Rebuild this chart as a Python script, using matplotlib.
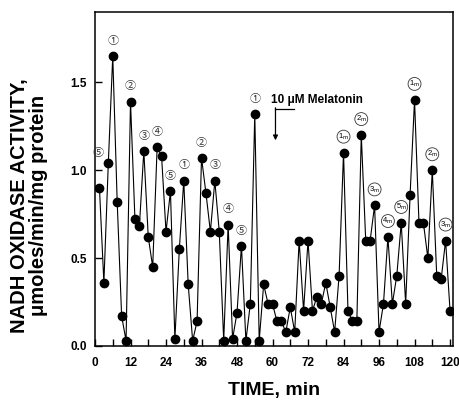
import matplotlib
matplotlib.use("Agg")
import matplotlib.pyplot as plt
from matplotlib.ticker import MultipleLocator

plt.rcParams['font.family'] = ['Liberation Sans', 'DejaVu Sans']

time_min = [1.5, 3, 4.5, 6, 7.5, 9, 10.5, 12, 13.5, 15, 16.5, 18, 19.5, 21, 22.5, 24,
            25.5, 27, 28.5, 30, 31.5, 33, 34.5, 36, 37.5, 39, 40.5, 42, 43.5, 45, 46.5, 48,
            49.5, 51, 52.5, 54, 55.5, 57, 58.5, 60, 61.5, 63, 64.5, 66, 67.5, 69, 70.5, 72,
            73.5, 75, 76.5, 78, 79.5, 81, 82.5, 84, 85.5, 87, 88.5, 90, 91.5, 93, 94.5, 96,
            97.5, 99, 100.5, 102, 103.5, 105, 106.5, 108, 109.5, 111, 112.5, 114, 115.5, 117,
            118.5, 120]
activity = [0.90, 0.36, 1.04, 1.65, 0.82, 0.17, 0.03, 1.39, 0.72, 0.68, 1.11, 0.62, 0.45,
            1.13, 1.08, 0.65, 0.88, 0.04, 0.55, 0.94, 0.35, 0.03, 0.14, 1.07, 0.87, 0.65,
            0.94, 0.65, 0.03, 0.69, 0.04, 0.19, 0.57, 0.03, 0.24, 1.32, 0.03, 0.35, 0.24,
            0.24, 0.14, 0.14, 0.08, 0.22, 0.08, 0.60, 0.20, 0.60, 0.20, 0.28, 0.24, 0.36,
            0.22, 0.08, 0.40, 1.10, 0.20, 0.14, 0.14, 1.20, 0.60, 0.60, 0.80, 0.08, 0.24,
            0.62, 0.24, 0.40, 0.70, 0.24, 0.86, 1.40, 0.70, 0.70, 0.50, 1.00, 0.40, 0.38,
            0.60, 0.20]

# circled labels before melatonin (point index, label)
pre_idx = [0, 3, 7, 10, 13, 16, 19, 23, 26, 29, 32, 35]
pre_lab = ['⑤', '①', '②', '③', '④', '⑤', '①', '②', '③', '④', '⑤', '①']
# circled labels after melatonin (point index, number)
post_idx = [55, 59, 62, 65, 68, 71, 75, 78]
post_lab = ['1', '2', '3', '4', '5', '1', '2', '3']

x_ticks = [0, 12, 24, 36, 48, 60, 72, 84, 96, 108, 120]
y_ticks = [0.0, 0.5, 1.0, 1.5]

fig = plt.figure(figsize=(4.6, 4.0), dpi=100)
ax = fig.add_axes([95/460, 1 - 346/400, 358/460, 334/400])

ax.plot(time_min, activity, color='black', lw=0.8, marker='o', ms=6,
        mfc='black', mec='black', zorder=3)

for i, lab in zip(pre_idx, pre_lab):
    off = (0, 11) if i != 0 else (-1, 25)
    ax.annotate(lab, (time_min[i], activity[i]), xytext=off, textcoords='offset points',
                ha='center', va='center', fontsize=8, color='#333333',
                family=['Noto Sans CJK JP', 'DejaVu Sans'])

for i, lab in zip(post_idx, post_lab):
    ax.annotate(lab + r'$_{\rm m}$', (time_min[i], activity[i]), xytext=(0, 11.5),
                textcoords='offset points', ha='center', va='center', fontsize=5.5,
                bbox=dict(boxstyle='circle,pad=0.12', fc='white', ec='#333333', lw=0.6))

# melatonin arrow
ax.text(59.6, 1.40, '10 \u03bcM Melatonin', fontsize=8.5, fontweight='bold',
        ha='left', va='center')
ax.plot([61.0, 67.4], [1.35, 1.35], color='black', lw=0.9)
ax.annotate('', xy=(61.0, 1.17), xytext=(61.0, 1.355),
            arrowprops=dict(arrowstyle='-|>', color='black', lw=0.9,
                            mutation_scale=7, shrinkA=0, shrinkB=0))

ax.set_xlim(0, 121)
ax.set_ylim(0, 1.9)
ax.set_xticks(x_ticks)
ax.set_xticklabels([str(t) for t in x_ticks])
ax.xaxis.set_minor_locator(MultipleLocator(6))
ax.set_yticks(y_ticks)
ax.set_yticklabels([f'{v:.1f}' for v in y_ticks])
ax.tick_params(which='both', direction='in', length=5, width=1, labelsize=8.5)
ax.tick_params(axis='x', pad=8)
ax.tick_params(axis='y', pad=6)
for lab in ax.get_xticklabels() + ax.get_yticklabels():
    lab.set_fontweight('bold')
for s in ax.spines.values():
    s.set_linewidth(1.1)

ax.set_xlabel('TIME, min', fontsize=14, fontweight='bold', labelpad=9)
ax.set_ylabel('NADH OXIDASE ACTIVITY,\n\u03bcmoles/min/mg protein', fontsize=14.5,
              fontweight='bold', linespacing=1.0)
ax.yaxis.set_label_coords(-0.132, 0.42)

fig.savefig('out.png', dpi=100)
